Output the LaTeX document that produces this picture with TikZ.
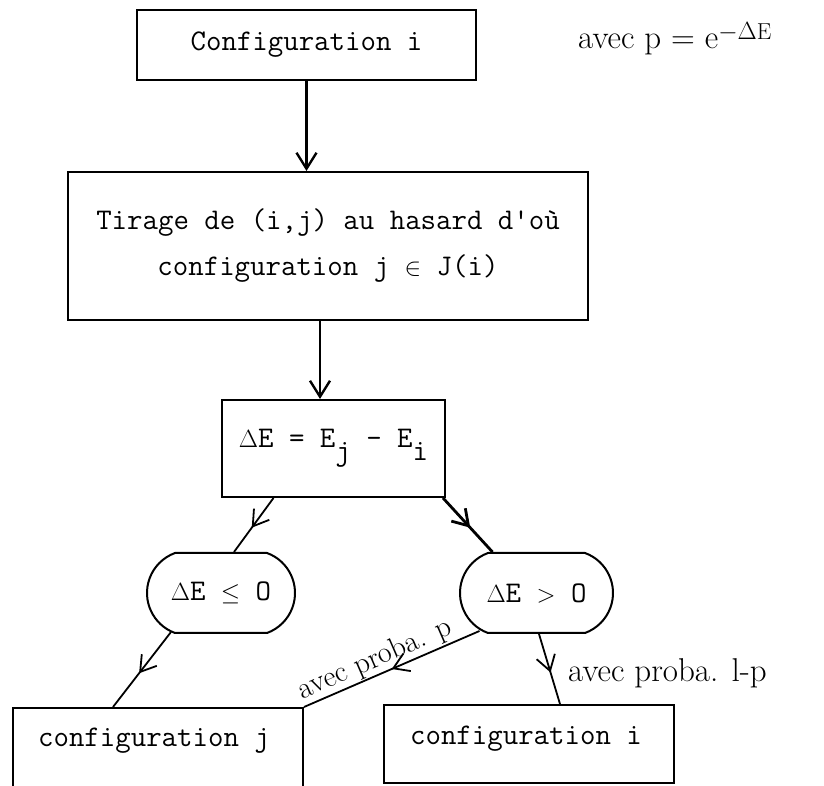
\documentclass[tikz,border=0pt]{standalone}
\usepackage{fontspec}
\usetikzlibrary{arrows.meta,decorations.markings,shapes.misc,calc}
\newcommand\ttA{\fontsize{30}{46}\selectfont\ttfamily}
\newcommand\rmA{\fontsize{33}{40}\selectfont\rmfamily}
\newcommand\rmB{\fontsize{30}{36}\selectfont\rmfamily}
\tikzset{
  box/.style={draw, line width=2pt, inner sep=0pt, font=\ttA},
  oval/.style={draw, line width=2pt, inner sep=0pt, font=\ttA, rounded rectangle, rounded rectangle arc length=140},
  lab/.style={inner sep=2pt, font=\rmA},
  conn/.style={line width=1.8pt},
  thickconn/.style={line width=2.8pt},
  endarr/.style={-{Straight Barb[length=16pt,width=20pt,line width=2.4pt]}},
  midarr/.style={postaction={decorate}, decoration={markings, mark=at position #1 with {\arrow{Straight Barb[length=15pt,width=19pt]}}}}
}
\begin{document}
\begin{tikzpicture}[x=1pt,y=1pt]
\useasboundingbox (0,0) rectangle (824,786);
\clip (0,0) rectangle (824,786);
% boxes
\node[box, minimum width=339pt, minimum height=70pt] (b1) at (306.5,741) {Configuration i};
\node[lab, anchor=base west] (pe) at (576,737) {avec p = e$^{-\Delta\mathrm{E}}$};
\node[box, minimum width=520pt, minimum height=148pt, align=center] (b2) at (328,540) {Tirage de (i,j) au hasard d'où\\configuration j $\in$ J(i)};
\node[box, minimum width=223pt, minimum height=97pt] (b3) at (333.5,337.5) {$\Delta$E = E\raisebox{-13pt}{j} - E\raisebox{-13pt}{i}};
\node[oval, minimum width=148pt, minimum height=80pt] (o1) at (221,193) {$\Delta$E $\leq$ O};
\node[oval, minimum width=153pt, minimum height=80pt] (o2) at (536.5,193) {$\Delta$E $>$ O};
\node[box, minimum width=290pt, minimum height=92pt] (b4) at (158,32) {};
\node[font=\ttA, anchor=base, inner sep=0pt] (t4) at (154,39) {configuration j};
\node[box, minimum width=290pt, minimum height=78pt] (b5) at (529,42) {};
\node[font=\ttA, anchor=base, inner sep=0pt] (t5) at (526,41) {configuration i};
% connectors
\draw[thickconn, endarr] (b1.south) -- (b1.south |- b2.north);
\coordinate (c2) at ([xshift=-13.5pt]b3.north);
\draw[thickconn, endarr] (c2 |- b2.south) -- (c2);
\draw[conn, midarr=0.55] ([xshift=-60pt]b3.south) -- ([xshift=13pt]o1.north);
\draw[thickconn, midarr=0.55] ([xshift=-3pt]b3.south east) -- ([xshift=-44pt]o2.north);
\draw[conn, midarr=0.55] ([xshift=-50pt,yshift=2pt]o1.south) -- ([xshift=-45pt]b4.north);
\draw[conn, midarr=0.5] ([xshift=-57pt,yshift=3pt]o2.south) -- (b4.north east)
   node[inner sep=1pt, font=\rmB, sloped, above, pos=0.56] (pl) {avec proba. p};
\draw[conn, midarr=0.55] ([xshift=2.5pt]o2.south) -- ([xshift=31pt]b5.north);
\node[lab, anchor=west] (lp) at (566,113) {avec proba. l-p};
\end{tikzpicture}
\end{document}
